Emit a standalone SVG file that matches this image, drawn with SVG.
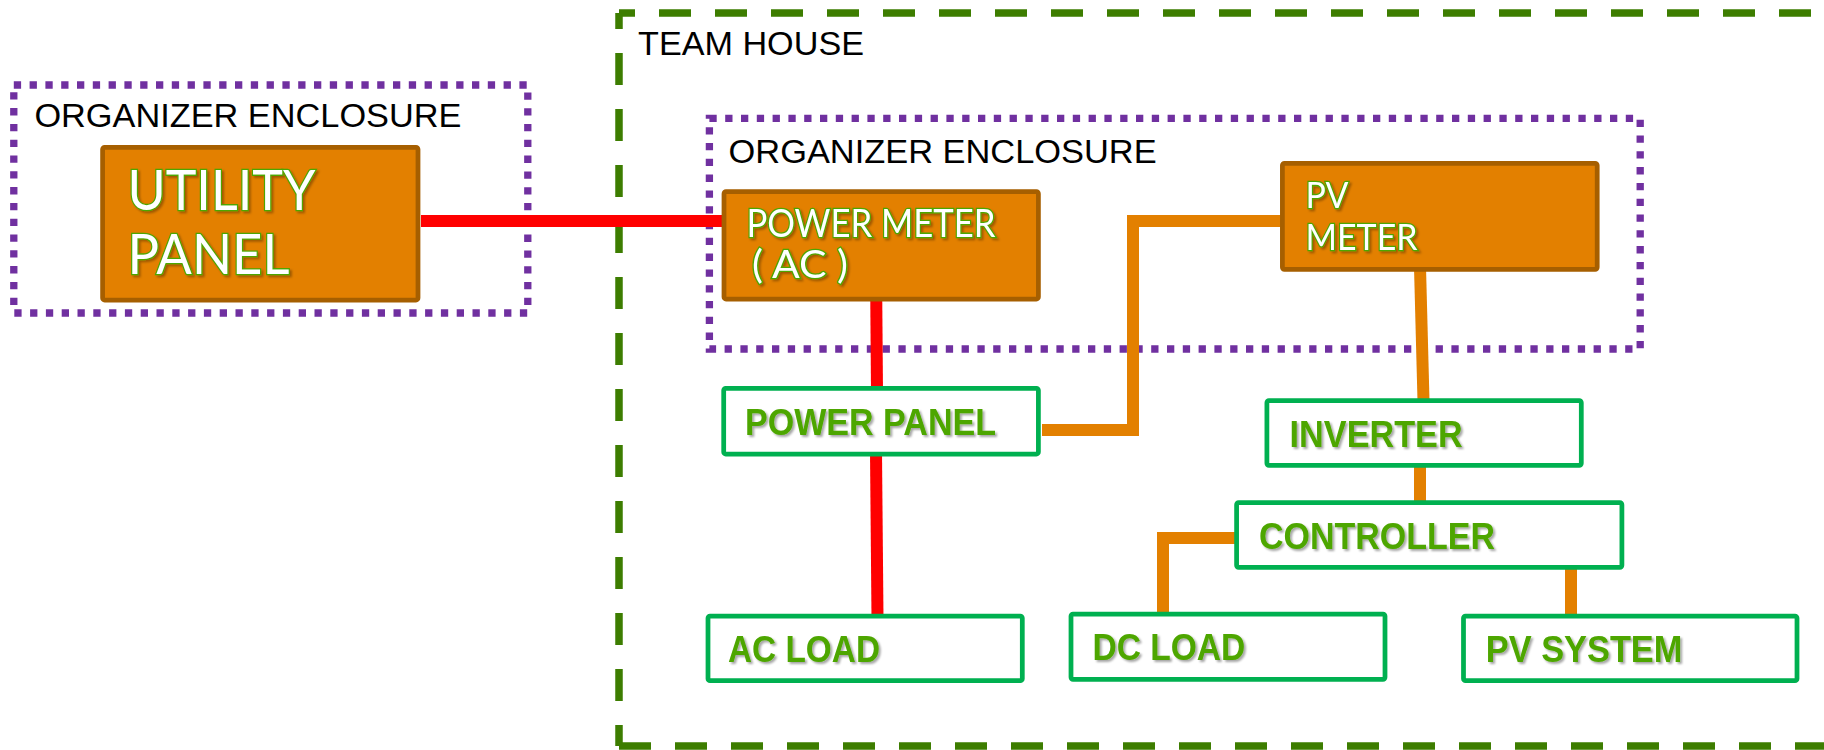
<svg xmlns="http://www.w3.org/2000/svg" width="1824" height="750" viewBox="0 0 1824 750">
<style>
.bg{fill:#ffffff}
.house{fill:none;stroke:#3D7D00;stroke-width:7.5;stroke-dasharray:32 24}
.encl{fill:none;stroke:#7030A0;stroke-width:7.3;stroke-dasharray:7.3 8.5}
.lbl{font-family:"Liberation Sans",Arial,sans-serif;font-size:34px;fill:#000000}
.meter{fill:#E38000;stroke:#A65F00;stroke-width:4.75}
.mtxt{font-family:Lato,"Open Sans",sans-serif;fill:#ffffff;stroke:#4EA600;stroke-width:2.6;paint-order:stroke;filter:url(#glow)}
.gbox{fill:#ffffff;stroke:#00B050;stroke-width:4.75}
.gtxt{font-family:"Liberation Sans",Arial,sans-serif;font-weight:bold;font-size:36px;fill:#4EA600;filter:url(#shadow)}
.red{fill:none;stroke:#FF0000;stroke-width:12}
.org{fill:none;stroke:#E38000;stroke-width:12}
</style>
<defs>
<filter id="shadow" x="-10%" y="-20%" width="130%" height="150%">
<feDropShadow dx="2" dy="2" stdDeviation="1" flood-color="#000000" flood-opacity="0.35"/>
</filter>
<filter id="glow" x="-10%" y="-20%" width="130%" height="150%">
<feDropShadow dx="2" dy="2" stdDeviation="1" flood-color="#000000" flood-opacity="0.3"/>
</filter>
</defs>
<rect class="bg" x="0" y="0" width="1824" height="750"/>

<g id="team-house">
<path class="house" d="M619,13 H1860" stroke-dashoffset="16"/>
<path class="house" d="M619,13 V746" stroke-dashoffset="16"/>
<path class="house" d="M619,746 H1860"/>
<text class="lbl" x="638" y="55" font-size="32.6" textLength="226" lengthAdjust="spacingAndGlyphs">TEAM HOUSE</text>
</g>

<g id="organizer-enclosure-left">
<rect class="encl" x="13.8" y="85" width="514" height="228"/>
<text class="lbl" x="34.4" y="127.3" textLength="427" lengthAdjust="spacingAndGlyphs">ORGANIZER ENCLOSURE</text>
</g>

<g id="organizer-enclosure-inner">
<rect class="encl" x="709.4" y="118.3" width="930.8" height="230.7"/>
<text class="lbl" x="728.6" y="162.7" textLength="428" lengthAdjust="spacingAndGlyphs">ORGANIZER ENCLOSURE</text>
</g>

<g id="connectors">
<path class="red" d="M421,221 H724"/>
<path class="red" d="M876,266 L877,393"/>
<path class="red" d="M876,452 L877.5,618"/>
<path class="org" d="M1042,430 H1133 V221 H1283"/>
<path class="org" d="M1420,267 L1423.5,401"/>
<path class="org" d="M1420,459 V504"/>
<path class="org" d="M1571,562 V616"/>
<path class="org" d="M1163,614 V538 H1238"/>
</g>

<g id="utility-panel">
<rect class="meter" x="102.6" y="147.3" width="315.4" height="152.7" rx="2"/>
<text class="mtxt" font-size="56"><tspan x="127.4" y="210" textLength="188" lengthAdjust="spacingAndGlyphs">UTILITY</tspan><tspan x="127.4" y="274" textLength="162" lengthAdjust="spacingAndGlyphs">PANEL</tspan></text>
</g>

<g id="power-meter">
<rect class="meter" x="724" y="191.7" width="314.4" height="107.3" rx="2"/>
<text class="mtxt" font-size="38" stroke-width="2.2"><tspan x="746.4" y="237.3" textLength="249" lengthAdjust="spacingAndGlyphs">POWER METER</tspan><tspan x="752" y="278" textLength="96" lengthAdjust="spacingAndGlyphs">( AC )</tspan></text>
</g>

<g id="pv-meter">
<rect class="meter" x="1282.4" y="163.3" width="314.8" height="106" rx="2"/>
<text class="mtxt" font-size="37" stroke-width="2.2"><tspan x="1305.5" y="208.3" textLength="43" lengthAdjust="spacingAndGlyphs">PV</tspan><tspan x="1305.5" y="250" textLength="112" lengthAdjust="spacingAndGlyphs">METER</tspan></text>
</g>

<g id="power-panel">
<rect class="gbox" x="723.7" y="388.3" width="314.7" height="65.7" rx="2"/>
<text class="gtxt" x="745" y="435" textLength="251" lengthAdjust="spacingAndGlyphs">POWER PANEL</text>
</g>

<g id="inverter">
<rect class="gbox" x="1266.9" y="400.7" width="314.4" height="64.6" rx="2"/>
<text class="gtxt" x="1289.6" y="447.3" textLength="173" lengthAdjust="spacingAndGlyphs">INVERTER</text>
</g>

<g id="controller">
<rect class="gbox" x="1236.6" y="502.7" width="385.3" height="64.6" rx="2"/>
<text class="gtxt" x="1259" y="549.3" textLength="236" lengthAdjust="spacingAndGlyphs">CONTROLLER</text>
</g>

<g id="ac-load">
<rect class="gbox" x="708" y="616" width="314.3" height="64.7" rx="2"/>
<text class="gtxt" x="728" y="661.7" textLength="152" lengthAdjust="spacingAndGlyphs">AC LOAD</text>
</g>

<g id="dc-load">
<rect class="gbox" x="1071" y="614" width="314" height="65.3" rx="2"/>
<text class="gtxt" x="1092.4" y="660" textLength="153" lengthAdjust="spacingAndGlyphs">DC LOAD</text>
</g>

<g id="pv-system">
<rect class="gbox" x="1463.5" y="616" width="333.5" height="64.7" rx="2"/>
<text class="gtxt" x="1485.8" y="662" textLength="196.6" lengthAdjust="spacingAndGlyphs">PV SYSTEM</text>
</g>
</svg>
